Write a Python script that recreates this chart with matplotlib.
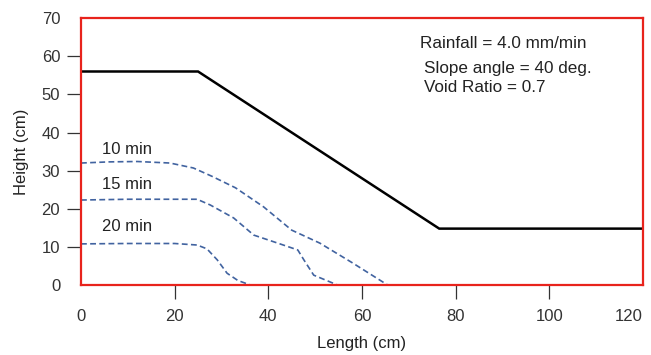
import matplotlib
matplotlib.use("Agg")
import matplotlib.pyplot as plt

plt.rcParams['font.family'] = ['Liberation Sans', 'DejaVu Sans']

# -----------------------------
# DATA
# -----------------------------

slope_x = [0, 25, 76.5, 120]
slope_y = [56, 56, 14.8, 14.8]

x_10 = [0, 6, 12, 19, 24, 28, 33, 39, 45, 51, 58, 65.5]
y_10 = [32.0, 32.3, 32.4, 32.0, 30.7, 28.5, 25.5, 20.5, 14.4, 11.0, 5.8, 0]

x_15 = [0, 10, 20, 24.8, 27.6, 32.6, 36.9, 42, 46.3, 47.6, 49.7, 54.8]
y_15 = [22.3, 22.5, 22.5, 22.5, 21.0, 17.6, 13.1, 11.0, 9.2, 6.6, 2.6, 0]

x_20 = [0, 10, 20, 24.8, 26.9, 29.1, 31.2, 33.5, 36.2]
y_20 = [10.8, 10.9, 10.9, 10.5, 9.5, 6.6, 3.1, 1.2, 0]

curve_labels = ["10 min", "15 min", "20 min"]
label_pos = [(4.5, 35.5), (4.5, 26.3), (4.5, 15.3)]

notes = ["Rainfall = 4.0 mm/min", "Slope angle = 40 deg.", "Void Ratio = 0.7"]
note_pos = [(72.4, 63.4), (73.2, 56.7), (73.2, 51.9)]

x_ticks = [0, 20, 40, 60, 80, 100, 120]
y_ticks = [0, 10, 20, 30, 40, 50, 60, 70]

# -----------------------------
# PLOT
# -----------------------------

fig = plt.figure(figsize=(6.51, 3.55), dpi=100)
ax = fig.add_axes([0.1244, 0.197, 0.8632, 0.752])

ax.plot(slope_x, slope_y, color="black", linewidth=1.8, solid_joinstyle="miter")

blue = "#4163a0"
for xs, ys in [(x_10, y_10), (x_15, y_15), (x_20, y_20)]:
    ax.plot(xs, ys, color=blue, linewidth=1.2, linestyle=(0, (3.5, 2)))

for txt, (px, py) in zip(curve_labels, label_pos):
    ax.text(px, py, txt, fontsize=12, color="#222222", ha="left", va="center")

for txt, (px, py) in zip(notes, note_pos):
    ax.text(px, py, txt, fontsize=12.3, color="#222222", ha="left", va="center")

ax.set_xlim(0, 120)
ax.set_ylim(0, 70)
ax.set_xticks(x_ticks)
ax.set_yticks(y_ticks)

for s in ax.spines.values():
    s.set_color("#e8231c")
    s.set_linewidth(1.6)

ax.tick_params(axis="both", direction="out", length=10, width=0.9,
               color="#333333", labelsize=12, labelcolor="#333333", pad=5)
ax.tick_params(axis="x", pad=7)

# no tick marks at the ends
for t in [ax.xaxis.get_major_ticks()[0], ax.xaxis.get_major_ticks()[-1],
          ax.yaxis.get_major_ticks()[0], ax.yaxis.get_major_ticks()[-1]]:
    t.tick1line.set_visible(False)

# last x label sits inside the frame edge
ax.get_xticklabels()[-1].set_horizontalalignment("right")

ax.set_xlabel("Length (cm)", fontsize=12, color="#222222", labelpad=9)
ax.set_ylabel("Height (cm)", fontsize=12, color="#222222", labelpad=9)

fig.savefig("out.png", dpi=100)
